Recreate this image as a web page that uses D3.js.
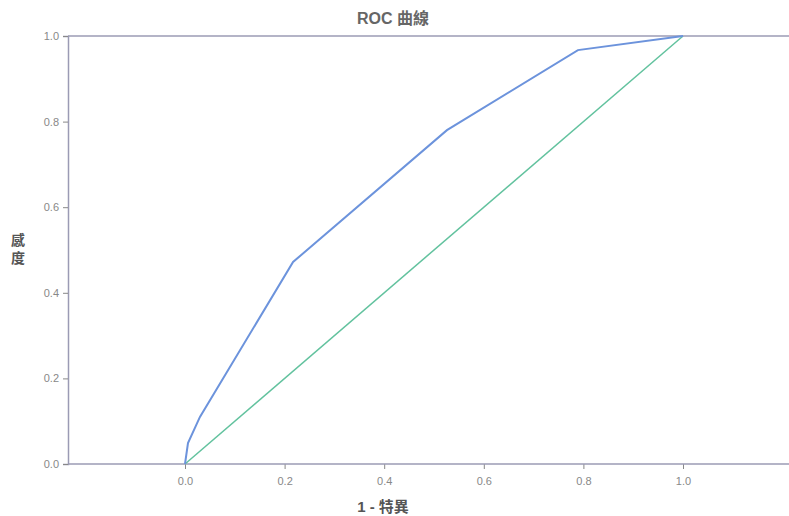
<!DOCTYPE html>
<html>
<head>
<meta charset="utf-8">
<script src="https://cdn.jsdelivr.net/npm/d3@7"></script>
<style>
  body { margin: 0; background: #fff; }
  text { font-family: "Liberation Sans", Arial, "Noto Sans CJK TC", sans-serif; }
</style>
</head>
<body>
<svg id="chart" width="789" height="516"></svg>
<script>
// ROC curve points (1 - specificity, sensitivity)
var rocX = [0, 0.006, 0.03, 0.217, 0.526, 0.789, 1.0];
var rocY = [0, 0.049, 0.11, 0.472, 0.780, 0.967, 1.0];
// reference diagonal
var refX = [0, 1];
var refY = [0, 1];
var tickVals = [0, 0.2, 0.4, 0.6, 0.8, 1.0];

var svg = d3.select('#chart');

// the plot frame runs off the right edge of the scan
var x = d3.scaleLinear().domain([0, 1]).range([185, 683]);
var y = d3.scaleLinear().domain([0, 1]).range([464, 36]);
var frameLeft = 68, frameRight = 800;

var axisColor = '#9b9bb4';

// title
svg.append('text')
  .attr('x', 393).attr('y', 24)
  .attr('text-anchor', 'middle')
  .attr('font-size', 16).attr('font-weight', 'bold')
  .attr('fill', '#666')
  .text('ROC 曲線');

// top frame line
svg.append('line')
  .attr('x1', frameLeft).attr('x2', frameRight)
  .attr('y1', y(1)).attr('y2', y(1))
  .attr('stroke', axisColor).attr('stroke-width', 1.5);

// y axis
var yAxis = d3.axisLeft(y).tickValues(tickVals).tickFormat(d3.format('.1f')).tickSize(5).tickPadding(4);
var gy = svg.append('g').attr('transform', 'translate(' + frameLeft + ',0)').call(yAxis);
gy.select('.domain').attr('stroke', axisColor).attr('stroke-width', 1.5);
gy.selectAll('.tick line').attr('stroke', '#888');
gy.selectAll('.tick text').attr('fill', '#888').attr('font-size', 11);

// x axis
var xAxis = d3.axisBottom(x).tickValues(tickVals).tickFormat(d3.format('.1f')).tickSize(5).tickPadding(8);
var gx = svg.append('g').attr('transform', 'translate(0,' + y(0) + ')').call(xAxis);
gx.select('.domain').remove();
gx.selectAll('.tick line').attr('stroke', '#888');
gx.selectAll('.tick text').attr('fill', '#888').attr('font-size', 11);
svg.append('line')
  .attr('x1', frameLeft).attr('x2', frameRight)
  .attr('y1', y(0)).attr('y2', y(0))
  .attr('stroke', axisColor).attr('stroke-width', 1.5);

// axis titles
svg.append('text')
  .attr('x', 383).attr('y', 512)
  .attr('text-anchor', 'middle')
  .attr('font-size', 15).attr('font-weight', 'bold')
  .attr('fill', '#555')
  .text('1 - 特異');

var yLab = svg.append('text')
  .attr('text-anchor', 'middle')
  .attr('font-size', 14).attr('font-weight', 'bold')
  .attr('fill', '#555');
yLab.append('tspan').attr('x', 18).attr('y', 245).text('感');
yLab.append('tspan').attr('x', 18).attr('y', 263).text('度');

var line = d3.line()
  .x(function(d) { return x(d[0]); })
  .y(function(d) { return y(d[1]); });

svg.append('path')
  .datum(d3.zip(refX, refY))
  .attr('d', line)
  .attr('fill', 'none')
  .attr('stroke', '#62c29e')
  .attr('stroke-width', 1.5);

svg.append('path')
  .datum(d3.zip(rocX, rocY))
  .attr('d', line)
  .attr('fill', 'none')
  .attr('stroke', '#6c93dc')
  .attr('stroke-width', 2);
</script>
</body>
</html>
